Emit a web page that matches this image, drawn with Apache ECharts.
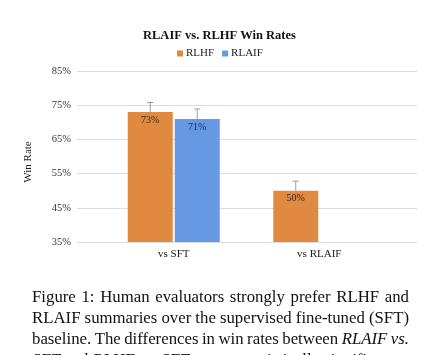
<!DOCTYPE html>
<html><head><meta charset="utf-8">
<script src="https://cdn.jsdelivr.net/npm/echarts@6/dist/echarts.min.js"></script>
<style>html,body{margin:0;padding:0;background:#fff}#c{width:427px;height:355px}</style>
</head><body><div id="c"></div>
<script>
const categories = ['vs SFT', 'vs RLAIF'];
const rlhf = [73, 50];
const rlaif = [71, null];
const rlhfErrTop = [75.8, 52.8];
const rlaifErrTop = [73.9, null];
const yTicks = [35, 45, 55, 65, 75, 85];
const captionLines = [
  'Figure 1: Human evaluators strongly prefer RLHF and',
  'RLAIF summaries over the supervised fine-tuned (SFT)',
  'baseline. The differences in win rates between {i|RLAIF vs.}',
  '{i|SFT} and {i|RLHF vs. SFT} are not statistically significant.'
];

const serif = 'Liberation Serif';
const orange = '#DF8A40';
const blue = '#6699E3';
const BW = 45, GAP = 2;
const CAP_FS = 16.8, CAP_LEFT = 32, CAP_RIGHT = 409, CAP_TOP = 289, CAP_LH = 21;

function errSeries(name, tops, vals, off) {
  return {
    type: 'custom', xAxisIndex: 1, yAxisIndex: 1, z: 5, silent: true,
    data: categories.map((c, i) => [i, vals[i], tops[i]]).filter(d => d[1] != null),
    renderItem: (params, api) => {
      const base = api.coord([api.value(0), api.value(1)]);
      const top = api.coord([api.value(0), api.value(2)]);
      const x = base[0] + off;
      const st = { stroke: '#9a9a9a', lineWidth: 1 };
      return { type: 'group', children: [
        { type: 'line', shape: { x1: x, y1: base[1], x2: x, y2: top[1] }, style: st },
        { type: 'line', shape: { x1: x - 3, y1: top[1], x2: x + 3, y2: top[1] }, style: st }
      ]};
    }
  };
}

// caption layout: justified lines, last line left aligned
const mctx = document.createElement('canvas').getContext('2d');
function measure(w, it) {
  mctx.font = (it ? 'italic ' : '') + CAP_FS + 'px "' + serif + '"';
  return mctx.measureText(w).width;
}
function tokens(line) {
  const out = [];
  const re = /\{i\|([^}]*)\}|([^{]+)/g;
  let m;
  while ((m = re.exec(line))) {
    const it = !!m[1];
    const txt = m[1] || m[2];
    txt.split(' ').forEach(w => { if (w) out.push({ w, it }); });
  }
  return out;
}
const captionGraphics = [];
captionLines.forEach((line, li) => {
  const toks = tokens(line);
  const widths = toks.map(t => measure(t.w, t.it));
  const sum = widths.reduce((a, b) => a + b, 0);
  const last = li === captionLines.length - 1;
  const space = last ? measure(' ', false) : (CAP_RIGHT - CAP_LEFT - sum) / (toks.length - 1);
  let x = CAP_LEFT;
  toks.forEach((t, k) => {
    captionGraphics.push({
      type: 'text', x: x, y: CAP_TOP + li * CAP_LH, silent: true,
      style: { text: t.w, fontFamily: serif, fontSize: CAP_FS, fontStyle: t.it ? 'italic' : 'normal',
               fill: '#111', textVerticalAlign: 'top' }
    });
    x += widths[k] + space;
  });
});
captionGraphics.push({
  type: 'text', x: 28, y: 162, rotation: Math.PI / 2, silent: true,
  style: { text: 'Win Rate', fontFamily: serif, fontSize: 11, fill: '#222',
           textAlign: 'center', textVerticalAlign: 'middle' }
});

const chart = echarts.init(document.getElementById('c'), null, { renderer: 'canvas' });
chart.setOption({
  animation: false,
  backgroundColor: '#fff',
  textStyle: { fontFamily: serif },
  title: {
    text: 'RLAIF vs. RLHF Win Rates', left: 138, top: 24,
    textStyle: { fontFamily: serif, fontSize: 12.5, fontWeight: 'bold', color: '#111' }
  },
  legend: {
    data: ['RLHF', 'RLAIF'], left: 172, top: 43, icon: 'rect',
    itemWidth: 6, itemHeight: 6, itemGap: 8,
    textStyle: { fontFamily: serif, fontSize: 11, color: '#222', padding: [0, 0, 0, -2] }
  },
  grid: [
    { left: 77, right: 10, top: 71, bottom: 113 },
    { left: 101, right: 35, top: 71, bottom: 113 }
  ],
  xAxis: [
    { type: 'category', gridIndex: 0, data: categories, show: false },
    { type: 'category', gridIndex: 1, data: categories,
      axisLine: { show: false }, axisTick: { show: false },
      axisLabel: { fontFamily: serif, fontSize: 11, color: '#222', margin: 7 } }
  ],
  yAxis: [
    { type: 'value', gridIndex: 0, min: yTicks[0], max: yTicks[yTicks.length - 1], interval: 10,
      axisLine: { show: false }, axisTick: { show: false },
      axisLabel: { formatter: '{value}%', fontFamily: serif, fontSize: 10.5, color: '#333', margin: 6 },
      splitLine: { lineStyle: { color: '#dcdcdc', width: 1 } } },
    { type: 'value', gridIndex: 1, min: yTicks[0], max: yTicks[yTicks.length - 1], interval: 10, show: false,
      splitLine: { show: false } }
  ],
  series: [
    { name: 'RLHF', type: 'bar', xAxisIndex: 1, yAxisIndex: 1, data: rlhf,
      barWidth: BW, barGap: (GAP / BW * 100) + '%', itemStyle: { color: orange },
      label: { show: true, position: 'insideTop', distance: 3, formatter: '{c}%',
               fontFamily: serif, fontSize: 10, color: '#3a2a1a' } },
    { name: 'RLAIF', type: 'bar', xAxisIndex: 1, yAxisIndex: 1, data: rlaif,
      barWidth: BW, itemStyle: { color: blue },
      label: { show: true, position: 'insideTop', distance: 3, formatter: '{c}%',
               fontFamily: serif, fontSize: 10, color: '#1a2a4a' } },
    errSeries('RLHF err', rlhfErrTop, rlhf, -(BW + GAP) / 2),
    errSeries('RLAIF err', rlaifErrTop, rlaif, (BW + GAP) / 2)
  ],
  graphic: captionGraphics
});
</script></body></html>
